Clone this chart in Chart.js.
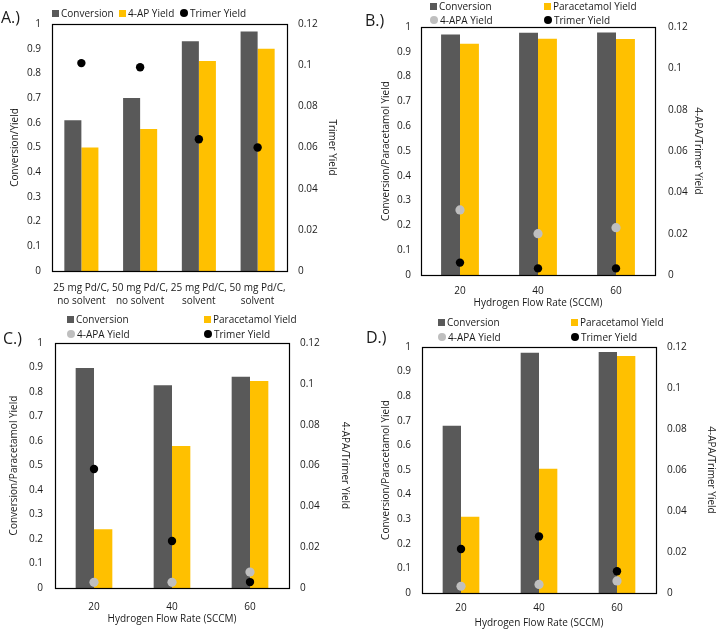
<!DOCTYPE html>
<html><head><meta charset="utf-8">
<script src="https://cdn.jsdelivr.net/npm/chart.js@4.4.1/dist/chart.umd.min.js"></script>
<style>
html,body{margin:0;padding:0;background:#fff;}
body{width:717px;height:630px;position:relative;overflow:hidden;font-family:'Open Sans',sans-serif;}
canvas{position:absolute;}
.lg{position:absolute;font-size:10px;line-height:12px;color:#1a1a1a;white-space:nowrap;transform:translateY(-50%);display:flex;align-items:center;}
.mk{display:inline-block;width:7px;height:7px;margin-right:2px;}
.dot{border-radius:50%;width:8px;height:8px;}
.pl{position:absolute;font-size:16px;line-height:18px;color:#1a1a1a;transform:translateY(-50%);}
</style></head>
<body>
<script>
// ---------- data ----------
const catsA = [['25 mg Pd/C,','no solvent'],['50 mg Pd/C,','no solvent'],['25 mg Pd/C,','solvent'],['50 mg Pd/C,','solvent']];
const convA = [0.61, 0.70, 0.93, 0.97];
const apYieldA = [0.50, 0.575, 0.85, 0.90];
const trimerA = [0.101, 0.099, 0.064, 0.060];

const flowCats = ['20', '40', '60'];
const convB = [0.970, 0.977, 0.978];
const paraB = [0.932, 0.953, 0.952];
const apaB = [0.0315, 0.0200, 0.0229];
const trimerB = [0.0060, 0.0032, 0.0032];

const convC = [0.898, 0.828, 0.862];
const paraC = [0.240, 0.580, 0.845];
const apaC = [0.0028, 0.0028, 0.0078];
const trimerC = [0.0583, 0.0230, 0.0029];

const convD = [0.680, 0.977, 0.980];
const paraD = [0.310, 0.505, 0.963];
const apaD = [0.0033, 0.0042, 0.0059];
const trimerD = [0.0215, 0.0276, 0.0106];

const leftMax = 1, leftStep = 0.1;
const rightMax = 0.12, rightStep = 0.02;

// ---------- styles ----------
const DARK = '#595959', YEL = '#FFC000', LGRAY = '#BFBFBF', BLK = '#000000', TXT = '#1a1a1a';
const FONT = {family: "'Open Sans', sans-serif", size: 10};

const framePlugin = {
  id: 'frame',
  afterDatasetsDraw(chart) {
    const a = chart.chartArea, ctx = chart.ctx;
    ctx.save();
    ctx.strokeStyle = '#000';
    ctx.lineWidth = 1.2;
    ctx.strokeRect(Math.round(a.left) + 0.5, Math.round(a.top) + 0.5, Math.round(a.right - a.left), Math.round(a.bottom - a.top));
    ctx.restore();
  }
};

function fmt(v) { return String(Number(v.toFixed(2))); }

function makePanel(p) {
  const c = document.createElement('canvas');
  c.width = p.cw; c.height = p.ch;
  c.style.left = p.cx + 'px'; c.style.top = p.cy + 'px';
  c.style.width = p.cw + 'px'; c.style.height = p.ch + 'px';
  document.body.appendChild(c);
  const ds = [];
  ds.push({type: 'line', label: 'Trimer Yield', data: p.trimer, yAxisID: 'y1', showLine: false,
    pointRadius: 4.2, pointBackgroundColor: BLK, pointBorderColor: BLK, pointBorderWidth: 0, order: 0});
  if (p.apa) ds.push({type: 'line', label: '4-APA Yield', data: p.apa, yAxisID: 'y1', showLine: false,
    pointRadius: 4.6, pointBackgroundColor: LGRAY, pointBorderColor: LGRAY, pointBorderWidth: 0, order: 1});
  ds.push({type: 'bar', label: 'Conversion', data: p.conv, yAxisID: 'y', backgroundColor: DARK, order: 2,
    barPercentage: 1, categoryPercentage: p.catPct});
  ds.push({type: 'bar', label: p.yLabel2, data: p.yield2, yAxisID: 'y', backgroundColor: YEL, order: 3,
    barPercentage: 1, categoryPercentage: p.catPct});
  new Chart(c, {
    data: {labels: p.labels, datasets: ds},
    plugins: [framePlugin],
    options: {
      responsive: false, animation: false, devicePixelRatio: 1,
      layout: {padding: {top: p.padTop, left: 0, right: 0, bottom: 0}},
      plugins: {legend: {display: false}, tooltip: {enabled: false}},
      scales: {
        x: {type: 'category', offset: true,
          grid: {display: false, drawTicks: false}, border: {display: false},
          ticks: {padding: p.xTickPad, font: {...FONT, lineHeight: 1.35}, color: TXT, maxRotation: 0, autoSkip: false},
          title: {display: !!p.xTitle, text: p.xTitle || '', font: FONT, color: TXT, padding: {top: 0, bottom: p.xTitlePad}},
          afterFit: s => { s.height = p.hx; }
        },
        y: {position: 'left', min: 0, max: leftMax,
          grid: {display: false, drawTicks: false}, border: {display: false},
          ticks: {stepSize: leftStep, padding: p.yTickPad, font: FONT, color: TXT, callback: fmt},
          title: {display: true, text: p.yTitle, font: FONT, color: TXT, padding: {top: p.yTitlePad, bottom: 0}},
          afterFit: s => { s.width = p.wl; }
        },
        y1: {position: 'right', min: 0, max: rightMax,
          grid: {display: false, drawTicks: false}, border: {display: false},
          ticks: {stepSize: rightStep, padding: p.y1TickPad, font: FONT, color: TXT, callback: fmt},
          title: {display: true, text: p.y1Title, font: FONT, color: TXT, padding: {top: p.y1TitlePad, bottom: 0}},
          afterFit: s => { s.width = p.wr; }
        }
      }
    }
  });
}

function legendItem(x, y, kind, color, text) {
  const d = document.createElement('div');
  d.className = 'lg';
  d.style.left = x + 'px'; d.style.top = y + 'px';
  const m = document.createElement('span');
  m.className = 'mk' + (kind === 'dot' ? ' dot' : '');
  m.style.background = color;
  d.appendChild(m);
  d.appendChild(document.createTextNode(text));
  document.body.appendChild(d);
}
function panelLabel(x, y, t) {
  const d = document.createElement('div');
  d.className = 'pl'; d.style.left = x + 'px'; d.style.top = y + 'px';
  d.textContent = t; document.body.appendChild(d);
}

// Panel A
makePanel({cx: 0, cy: 0, cw: 358, ch: 312, padTop: 24, wl: 52, wr: 71, hx: 41,
  labels: catsA, conv: convA, yield2: apYieldA, yLabel2: '4-AP Yield', trimer: trimerA, apa: null,
  catPct: 0.58, xTickPad: 10, xTitle: '', xTitlePad: 0,
  yTitle: 'Conversion/Yield', yTitlePad: 9, yTickPad: 11,
  y1Title: 'Trimer Yield', y1TitlePad: 20, y1TickPad: 11});
// Panel B
makePanel({cx: 358, cy: 0, cw: 359, ch: 312, padTop: 27, wl: 63, wr: 62, hx: 37,
  labels: flowCats, conv: convB, yield2: paraB, yLabel2: 'Paracetamol Yield', trimer: trimerB, apa: apaB,
  catPct: 0.485, xTickPad: 9, xTitle: 'Hydrogen Flow Rate (SCCM)', xTitlePad: 3,
  yTitle: 'Conversion/Paracetamol Yield', yTitlePad: 22, yTickPad: 10,
  y1Title: '4-APA/Trimer Yield', y1TitlePad: 13, y1TickPad: 13});
// Panel C
makePanel({cx: 0, cy: 312, cw: 358, ch: 318, padTop: 31, wl: 55, wr: 69, hx: 42,
  labels: flowCats, conv: convC, yield2: paraC, yLabel2: 'Paracetamol Yield', trimer: trimerC, apa: apaC,
  catPct: 0.47, xTickPad: 12, xTitle: 'Hydrogen Flow Rate (SCCM)', xTitlePad: 5,
  yTitle: 'Conversion/Paracetamol Yield', yTitlePad: 8, yTickPad: 12,
  y1Title: '4-APA/Trimer Yield', y1TitlePad: 7, y1TickPad: 11});
// Panel D
makePanel({cx: 358, cy: 312, cw: 359, ch: 318, padTop: 35, wl: 64, wr: 61, hx: 37,
  labels: flowCats, conv: convD, yield2: paraD, yLabel2: 'Paracetamol Yield', trimer: trimerD, apa: apaD,
  catPct: 0.47, xTickPad: 8, xTitle: 'Hydrogen Flow Rate (SCCM)', xTitlePad: 1,
  yTitle: 'Conversion/Paracetamol Yield', yTitlePad: 22, yTickPad: 11,
  y1Title: '4-APA/Trimer Yield', y1TitlePad: 0, y1TickPad: 11});

// Legends
legendItem(52, 13, 'sq', DARK, 'Conversion');
legendItem(119, 13, 'sq', YEL, '4-AP Yield');
legendItem(180, 13, 'dot', BLK, 'Trimer Yield');

legendItem(430, 6, 'sq', DARK, 'Conversion');
legendItem(544, 6, 'sq', YEL, 'Paracetamol Yield');
legendItem(430, 20, 'dot', LGRAY, '4-APA Yield');
legendItem(544, 20, 'dot', BLK, 'Trimer Yield');

legendItem(67, 319, 'sq', DARK, 'Conversion');
legendItem(204, 319, 'sq', YEL, 'Paracetamol Yield');
legendItem(67, 334, 'dot', LGRAY, '4-APA Yield');
legendItem(204, 334, 'dot', BLK, 'Trimer Yield');

legendItem(438, 322, 'sq', DARK, 'Conversion');
legendItem(571, 322, 'sq', YEL, 'Paracetamol Yield');
legendItem(438, 337, 'dot', LGRAY, '4-APA Yield');
legendItem(571, 337, 'dot', BLK, 'Trimer Yield');

panelLabel(1, 17, 'A.)');
panelLabel(365, 20, 'B.)');
panelLabel(3, 338, 'C.)');
panelLabel(366, 337, 'D.)');
</script>
</body></html>
